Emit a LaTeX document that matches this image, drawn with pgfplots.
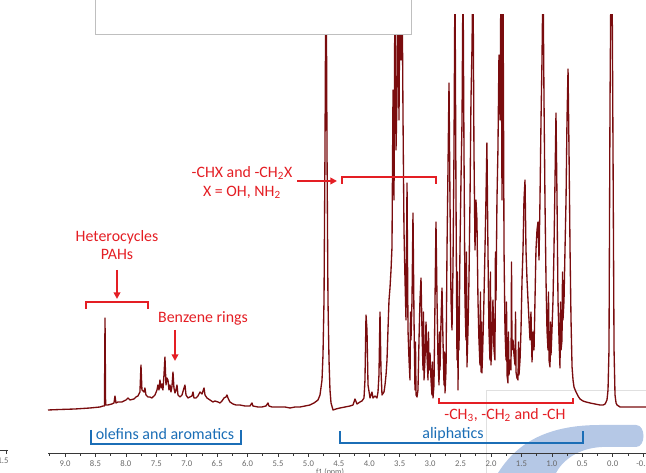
\documentclass[border=0pt]{standalone}
\usepackage{pgfplots}
\pgfplotsset{compat=1.18}
\usepackage{pgfplotstable}
\usepackage{fontspec}
\setmainfont{Carlito}
\usetikzlibrary{arrows.meta}

\definecolor{spec}{RGB}{122,12,14}
\definecolor{annred}{RGB}{228,30,36}
\definecolor{annblue}{RGB}{27,110,182}
\definecolor{swoosh}{RGB}{168,190,226}
\definecolor{axisgray}{RGB}{55,55,55}
\definecolor{ticklab}{RGB}{105,105,105}

% 1H NMR spectrum: chemical shift (ppm), intensity (arbitrary units)
\pgfplotstableread{
ppm I
9.280 42
9.083 42.5
8.836 43
8.590 44
8.426 45
8.376 46
8.352 46
8.343 134
8.333 47
8.294 47
8.228 48
8.196 49
8.179 56
8.163 49
8.130 50
8.064 50
7.998 52
7.966 54
7.933 52
7.867 53
7.834 55
7.802 56
7.769 60
7.752 87
7.736 62
7.703 60
7.687 64
7.670 57
7.637 55
7.604 55
7.572 54
7.522 57
7.489 62
7.473 67
7.456 62
7.440 72
7.423 64
7.407 68
7.391 62
7.374 77
7.358 95
7.341 67
7.325 74
7.308 72
7.292 62
7.275 67
7.259 60
7.242 66
7.226 80
7.210 64
7.193 59
7.177 62
7.160 67
7.144 57
7.111 55
7.078 57
7.045 64
7.029 67
7.012 57
6.980 54
6.947 55
6.914 56
6.897 60
6.881 54
6.848 54
6.815 56
6.782 60
6.749 58
6.716 64
6.700 57
6.667 54
6.618 52
6.568 50
6.536 51
6.486 50
6.454 49
6.421 51
6.388 54
6.355 55
6.339 57
6.322 54
6.290 50
6.240 48
6.191 47
6.125 47
6.043 46
5.961 46
5.928 49
5.912 46
5.830 45
5.764 45
5.698 46
5.665 49
5.649 46
5.600 45
5.468 45
5.386 45
5.304 44
5.222 45
5.139 45
5.057 46
4.975 47
4.909 49
4.843 52
4.810 57
4.777 72
4.761 97
4.744 152
4.728 302
4.711 520
4.695 302
4.679 152
4.662 92
4.646 62
4.629 49
4.596 42
4.547 43
4.481 44
4.399 45
4.317 46
4.268 47
4.235 53
4.202 48
4.153 50
4.120 51
4.087 54
4.071 72
4.054 137
4.038 122
4.021 67
3.988 54
3.956 60
3.939 54
3.906 56
3.874 54
3.857 60
3.841 77
3.824 140
3.808 82
3.791 57
3.758 60
3.742 67
3.725 77
3.709 92
3.693 122
3.676 152
3.660 164
3.643 182
3.627 205
3.610 362
3.594 252
3.578 482
3.561 302
3.545 352
3.528 482
3.512 332
3.495 482
3.479 392
3.462 482
3.446 335
3.430 222
3.413 172
3.397 132
3.380 269
3.364 122
3.347 92
3.331 72
3.323 140
3.315 112
3.298 152
3.282 239
3.265 132
3.249 62
3.241 110
3.232 57
3.216 55
3.200 62
3.183 112
3.167 152
3.150 174
3.134 122
3.117 82
3.109 140
3.101 72
3.085 92
3.068 130
3.052 97
3.035 72
3.027 120
3.019 82
3.002 99
2.986 72
2.970 57
2.962 90
2.953 54
2.937 67
2.920 152
2.904 230
2.887 152
2.871 92
2.854 67
2.846 120
2.838 82
2.821 132
2.805 164
2.789 112
2.772 67
2.764 100
2.756 59
2.739 82
2.723 202
2.707 282
2.690 369
2.674 252
2.657 152
2.641 122
2.625 182
2.608 302
2.592 482
2.575 252
2.559 92
2.551 180
2.542 62
2.534 140
2.526 102
2.510 202
2.493 272
2.476 332
2.460 482
2.444 302
2.428 152
2.411 112
2.403 200
2.395 85
2.378 122
2.362 172
2.345 252
2.329 352
2.313 402
2.296 482
2.280 302
2.263 202
2.247 252
2.231 232
2.214 152
2.198 112
2.181 87
2.173 160
2.165 80
2.157 130
2.149 79
2.132 112
2.116 152
2.099 202
2.083 252
2.067 309
2.050 202
2.034 122
2.017 92
2.009 180
2.001 87
1.984 112
1.968 152
1.951 102
1.935 92
1.927 200
1.918 152
1.902 252
1.886 302
1.869 397
1.852 332
1.836 482
1.819 252
1.803 482
1.786 202
1.770 122
1.753 92
1.745 150
1.737 77
1.721 69
1.713 120
1.704 77
1.688 92
1.671 82
1.663 190
1.655 102
1.638 112
1.622 97
1.605 87
1.597 140
1.589 80
1.573 74
1.556 72
1.548 110
1.540 77
1.523 92
1.507 122
1.490 172
1.474 202
1.458 252
1.441 272
1.425 202
1.408 172
1.392 152
1.359 112
1.343 140
1.326 90
1.310 120
1.293 102
1.277 152
1.261 202
1.244 222
1.228 230
1.211 192
1.195 252
1.178 332
1.162 392
1.145 482
1.129 352
1.113 252
1.096 172
1.080 122
1.063 102
1.055 160
1.047 92
1.030 85
1.022 130
1.014 97
0.998 122
0.981 152
0.965 202
0.948 272
0.932 339
0.915 252
0.899 152
0.882 112
0.866 84
0.858 150
0.849 102
0.833 112
0.825 180
0.817 132
0.800 152
0.784 202
0.767 252
0.751 332
0.734 383
0.718 302
0.701 202
0.685 132
0.668 85
0.652 72
0.636 65
0.603 60
0.570 56
0.537 53
0.488 51
0.439 50
0.373 49
0.291 48
0.209 47
0.159 47
0.126 48
0.094 52
0.077 62
0.061 102
0.044 352
0.028 482
0.011 482
-0.005 302
-0.022 102
-0.038 57
-0.055 49
-0.071 47
-0.121 45
-0.203 45
-0.285 45
-0.400 45
-0.547 45
}\spectrum

\begin{document}
\begin{tikzpicture}[x=0.75pt,y=0.75pt]
\path[use as bounding box] (0,0) rectangle (646,473);

% decorative swoosh and faint text frame behind the plot
\fill[swoosh, opacity=0.85] (498,0) .. controls (518,32) and (550,48) .. (600,48)
  -- (636,48) .. controls (646,48) and (646,26) .. (636,26)
  -- (602,26) .. controls (578,25) and (562,12) .. (556,0) -- cycle;
\draw[black!12, line width=0.6pt] (486,0) -- (486,83) -- (646,83);

% stub of the neighbouring axis
\draw[axisgray, line width=0.6pt] (0,23) -- (8,23);
\draw[axisgray, line width=0.5pt] (6,23) -- (6,19);
\node[font=\fontsize{6.5}{7}\selectfont, text=ticklab] at (3,12) {1.5};

\begin{axis}[
  at={(36pt,15pt)}, anchor=south west,
  scale only axis, width=448.5pt, height=328.5pt,
  x dir=reverse,
  xmin=-0.547, xmax=9.28, ymin=-1, ymax=437,
  axis x line=bottom, axis y line=none,
  x axis line style={-, draw=axisgray, line width=0.6pt},
  xtick={-0.5,0,...,9}, minor xtick={-0.25,0.25,...,9.25},
  tick align=outside, major tick length=3pt, minor tick length=2.2pt,
  every tick/.style={draw=axisgray, line width=0.5pt},
  xticklabel style={font=\fontsize{6.5}{7}\selectfont, text=ticklab, yshift=0.8pt,
    /pgf/number format/.cd, fixed, fixed zerofill, precision=1, assume math mode=true},
  xlabel={f1 (ppm)},
  xlabel style={at={(axis description cs:0.4716,0)}, anchor=center, yshift=-14.4pt,
    font=\fontsize{6}{7}\selectfont, text=ticklab},
  clip=true,
]
\addplot[spec, line width=1pt, line join=round, no marks] table[x=ppm, y=I] {\spectrum};
\end{axis}

% white panel at the top
\filldraw[fill=white, draw=black!25, line width=0.75pt] (95,438) rectangle (411,490);

% red annotations
\begin{scope}[annred, font=\fontsize{11.9}{13.6}\selectfont]
  \node[align=center] at (117,228) {Heterocycles\\PAHs};
  \draw[line width=1.3pt, -{Triangle[length=5pt,width=5pt]}] (117,203) -- (117,174);
  \draw[line width=1.5pt] (86,164) -- (86,171) -- (148,171) -- (148,164);

  \node at (203,155) {Benzene rings};
  \draw[line width=1.3pt, -{Triangle[length=5pt,width=5pt]}] (175,143) -- (175,112);

  \node[align=center, font=\fontsize{11.9}{14.3}\selectfont] at (242,290.5)
    {-CHX and -CH\textsubscript{2}X\\X = OH, NH\textsubscript{2}};
  \draw[line width=1.3pt, -{Triangle[length=5pt,width=5pt]}] (297,292) -- (337,292);
  \draw[line width=1.5pt] (342,289) -- (342,296) -- (436,296) -- (436,289);

  \draw[line width=1.5pt] (439,75) -- (439,70) -- (573,70) -- (573,75);
  \node at (505,58) {-CH\textsubscript{3}, -CH\textsubscript{2} and -CH};
\end{scope}

% blue region brackets
\begin{scope}[annblue, font=\fontsize{12}{14}\selectfont]
  \draw[line width=1.8pt] (91,43) -- (91,29) -- (241,29) -- (241,43);
  \node at (165,39) {olefins and aromatics};
  \draw[line width=1.8pt] (340,42) -- (340,30) -- (583,30) -- (583,42);
  \node at (453,39) {aliphatics};
\end{scope}
\end{tikzpicture}
\end{document}
